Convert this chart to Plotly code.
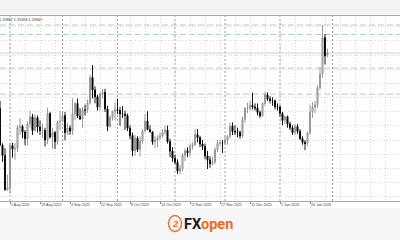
import pandas as pd
import plotly.graph_objects as go

# ---- data -------------------------------------------------------------
holidays = ["2025-12-25", "2026-01-01"]
dates = [d.strftime("%Y-%m-%d") for d in pd.bdate_range("2025-07-28", "2026-01-29")
         if d.strftime("%Y-%m-%d") not in holidays]

opens = [1.1740, 1.1588, 1.1546, 1.1405, 1.1415, 1.1587, 1.1572, 1.1575, 1.1661, 1.1665,
         1.1642, 1.1615, 1.1676, 1.1705, 1.1648, 1.1701, 1.1663, 1.1648, 1.1649, 1.1610,
         1.1718, 1.1622, 1.1640, 1.1603, 1.1683, 1.1686, 1.1710, 1.1640, 1.1659, 1.1646,
         1.1717, 1.1760, 1.1707, 1.1696, 1.1733, 1.1732, 1.1762, 1.1867, 1.1815, 1.1787,
         1.1745, 1.1800, 1.1805, 1.1737, 1.1665, 1.1702, 1.1727, 1.1734, 1.1731, 1.1717,
         1.1716, 1.1710, 1.1658, 1.1628, 1.1565, 1.1617, 1.1570, 1.1606, 1.1646, 1.1688,
         1.1653, 1.1643, 1.1602, 1.1609, 1.1619, 1.1627, 1.1643, 1.1650, 1.1603, 1.1564,
         1.1535, 1.1518, 1.1482, 1.1493, 1.1547, 1.1565, 1.1557, 1.1584, 1.1590, 1.1632,
         1.1620, 1.1593, 1.1583, 1.1544, 1.1528, 1.1512, 1.1519, 1.1569, 1.1596, 1.1598,
         1.1597, 1.1609, 1.1624, 1.1666, 1.1644, 1.1643, 1.1641, 1.1626, 1.1695, 1.1739,
         1.1740, 1.1752, 1.1745, 1.1741, 1.1723, 1.1709, 1.1760, 1.1795, 1.1779, 1.1772,
         1.1771, 1.1746, 1.1745, 1.1718, 1.1690, 1.1705, 1.1675, 1.1660, 1.1640, 1.1665,
         1.1645, 1.1615, 1.1600, 1.1595, 1.1640, 1.1725, 1.1745, 1.1755, 1.1825, 1.1880,
         1.2030, 1.1958]
highs = [1.1771, 1.1596, 1.1576, 1.1466, 1.1597, 1.1598, 1.1597, 1.1670, 1.1699, 1.1672,
         1.1650, 1.1686, 1.1730, 1.1717, 1.1715, 1.1710, 1.1690, 1.1677, 1.1660, 1.1742,
         1.1725, 1.1660, 1.1646, 1.1690, 1.1730, 1.1720, 1.1725, 1.1680, 1.1670, 1.1780,
         1.1765, 1.1780, 1.1740, 1.1745, 1.1755, 1.1775, 1.1878, 1.1918, 1.1830, 1.1795,
         1.1805, 1.1819, 1.1820, 1.1750, 1.1710, 1.1730, 1.1765, 1.1779, 1.1746, 1.1749,
         1.1730, 1.1718, 1.1670, 1.1640, 1.1630, 1.1625, 1.1625, 1.1655, 1.1716, 1.1728,
         1.1670, 1.1645, 1.1625, 1.1629, 1.1640, 1.1655, 1.1668, 1.1669, 1.1615, 1.1580,
         1.1548, 1.1530, 1.1508, 1.1555, 1.1575, 1.1580, 1.1595, 1.1600, 1.1655, 1.1655,
         1.1627, 1.1610, 1.1595, 1.1565, 1.1543, 1.1540, 1.1580, 1.1610, 1.1612, 1.1610,
         1.1628, 1.1630, 1.1680, 1.1682, 1.1670, 1.1660, 1.1648, 1.1705, 1.1745, 1.1762,
         1.1770, 1.1804, 1.1760, 1.1760, 1.1730, 1.1765, 1.1808, 1.1805, 1.1790, 1.1785,
         1.1775, 1.1760, 1.1752, 1.1725, 1.1710, 1.1710, 1.1685, 1.1670, 1.1675, 1.1675,
         1.1655, 1.1625, 1.1610, 1.1645, 1.1755, 1.1765, 1.1770, 1.1835, 1.1909, 1.2082,
         1.2045, 1.19852]
lows = [1.1586, 1.1520, 1.1401, 1.1401, 1.1391, 1.1537, 1.1528, 1.1561, 1.1630, 1.1617,
        1.1588, 1.1588, 1.1660, 1.1630, 1.1645, 1.1640, 1.1630, 1.1617, 1.1583, 1.1593,
        1.1615, 1.1574, 1.1573, 1.1590, 1.1650, 1.1683, 1.1608, 1.1630, 1.1630, 1.1630,
        1.1690, 1.1700, 1.1692, 1.1660, 1.1710, 1.1720, 1.1755, 1.1780, 1.1760, 1.1730,
        1.1730, 1.1780, 1.1725, 1.1646, 1.1660, 1.1690, 1.1690, 1.1716, 1.1668, 1.1700,
        1.1650, 1.1646, 1.1613, 1.1542, 1.1545, 1.1560, 1.1542, 1.1594, 1.1640, 1.1650,
        1.1640, 1.1590, 1.1576, 1.1580, 1.1610, 1.1620, 1.1630, 1.1595, 1.1540, 1.1520,
        1.1510, 1.1470, 1.1468, 1.1480, 1.1522, 1.1540, 1.1542, 1.1570, 1.1585, 1.1600,
        1.1580, 1.1568, 1.1530, 1.1490, 1.1495, 1.1505, 1.1510, 1.1560, 1.1585, 1.1556,
        1.1590, 1.1590, 1.1615, 1.1630, 1.1630, 1.1620, 1.1615, 1.1618, 1.1680, 1.1720,
        1.1730, 1.1735, 1.1730, 1.1710, 1.1700, 1.1705, 1.1750, 1.1770, 1.1760, 1.1750,
        1.1735, 1.1730, 1.1705, 1.1670, 1.1675, 1.1660, 1.1650, 1.1630, 1.1630, 1.1635,
        1.1610, 1.1590, 1.1568, 1.1585, 1.1630, 1.1700, 1.1720, 1.1740, 1.1815, 1.1865,
        1.1920, 1.19494]
closes = [1.1588, 1.1546, 1.1405, 1.1415, 1.1587, 1.1572, 1.1575, 1.1661, 1.1665, 1.1642,
          1.1615, 1.1676, 1.1705, 1.1648, 1.1701, 1.1663, 1.1648, 1.1649, 1.1610, 1.1718,
          1.1622, 1.1640, 1.1603, 1.1683, 1.1686, 1.1710, 1.1640, 1.1659, 1.1646, 1.1717,
          1.1760, 1.1707, 1.1696, 1.1733, 1.1732, 1.1762, 1.1867, 1.1815, 1.1787, 1.1745,
          1.1800, 1.1805, 1.1737, 1.1665, 1.1702, 1.1727, 1.1734, 1.1731, 1.1717, 1.1716,
          1.1710, 1.1658, 1.1628, 1.1565, 1.1617, 1.1570, 1.1606, 1.1646, 1.1688, 1.1653,
          1.1643, 1.1602, 1.1609, 1.1619, 1.1627, 1.1643, 1.1650, 1.1603, 1.1564, 1.1535,
          1.1518, 1.1482, 1.1493, 1.1547, 1.1565, 1.1557, 1.1584, 1.1590, 1.1632, 1.1620,
          1.1593, 1.1583, 1.1544, 1.1528, 1.1512, 1.1519, 1.1569, 1.1596, 1.1598, 1.1597,
          1.1609, 1.1624, 1.1666, 1.1644, 1.1643, 1.1641, 1.1626, 1.1695, 1.1739, 1.1740,
          1.1752, 1.1745, 1.1741, 1.1723, 1.1709, 1.1760, 1.1795, 1.1779, 1.1772, 1.1771,
          1.1746, 1.1745, 1.1718, 1.1690, 1.1705, 1.1675, 1.1660, 1.1640, 1.1665, 1.1645,
          1.1615, 1.1600, 1.1595, 1.1640, 1.1725, 1.1745, 1.1755, 1.1825, 1.1880, 1.2030,
          1.1955, 1.19667]

tick_dates = ["2025-08-01", "2025-08-19", "2025-09-04", "2025-09-22", "2025-10-08",
              "2025-10-24", "2025-11-11", "2025-11-27", "2025-12-15", "2026-01-02",
              "2026-01-20"]
tick_labels = ["1 Aug 2025", "19 Aug 2025", "4 Sep 2025", "22 Sep 2025", "8 Oct 2025",
               "24 Oct 2025", "11 Nov 2025", "27 Nov 2025", "15 Dec 2025", "2 Jan 2026",
               "20 Jan 2026"]
level_lines = [1.2082, 1.2043, 1.1905, 1.1798]
last_price = 1.19667
header_text = "1.19852 1.19494 1.19667"
price_range = [1.13589, 1.21190]
grid_start, grid_step = 1.13766, 0.00582

# ---- build ------------------------------------------------------------
xs = list(range(len(dates)))
tickvals = [dates.index(d) for d in tick_dates]
month_starts = [i for i in range(1, len(dates)) if dates[i][5:7] != dates[i - 1][5:7]]
month_starts.append(len(dates) + 1)  # next month (Feb 2) beyond the data

fig = go.Figure(go.Candlestick(
    x=xs, open=opens, high=highs, low=lows, close=closes,
    increasing=dict(line=dict(color="#8e8e8e", width=0.9), fillcolor="#d2d2d2"),
    decreasing=dict(line=dict(color="#000000", width=0.9), fillcolor="#000000"),
    whiskerwidth=0, hoverinfo="skip", showlegend=False,
))

grid_col = "#d6d6d6"
fig.update_layout(
    width=400, height=240,
    margin=dict(l=0, r=0, t=16, b=39),
    paper_bgcolor="#ffffff", plot_bgcolor="#ffffff",
    boxgap=0.4,
    showlegend=False,
    xaxis=dict(
        range=[0, 160], rangeslider=dict(visible=False),
        tickmode="array", tickvals=tickvals, ticktext=tick_labels,
        ticklabelposition="outside right",
        tickfont=dict(size=3.7, color="#444444", family="Liberation Sans"),
        ticks="outside", ticklen=2, tickcolor="#888888",
        showgrid=True, gridcolor=grid_col, griddash="1px,2px", gridwidth=1,
        minor=dict(tick0=tickvals[0], dtick=6, showgrid=True, gridcolor=grid_col,
                   griddash="1px,2px", ticks=""),
        showline=True, linecolor="#a8a8a8", linewidth=1, mirror=True,
        zeroline=False, fixedrange=True,
    ),
    yaxis=dict(
        range=price_range, showticklabels=False, ticks="",
        tick0=grid_start, dtick=grid_step,
        showgrid=True, gridcolor=grid_col, griddash="1px,2px", gridwidth=1,
        zeroline=False, showline=False, fixedrange=True,
    ),
)

plot_h = 240 - 16 - 39
def py(px):  # paper y from pixel row
    return (201 - px) / plot_h

shapes = []
shapes.append(dict(type="rect", xref="paper", yref="paper", x0=0, x1=1, y0=1.0, y1=py(0),
                   fillcolor="#f3f3f3", line=dict(width=0), layer="below"))
shapes.append(dict(type="rect", xref="paper", yref="paper", x0=0, x1=1, y0=py(208), y1=py(241),
                   fillcolor="#f6f6f6", line=dict(width=0), layer="below"))
for m in month_starts:
    shapes.append(dict(type="line", xref="x", yref="paper", x0=m, x1=m, y0=0, y1=1,
                       line=dict(color="#9c9c9c", width=1, dash="2px,2px"), layer="below"))
for lv in level_lines:
    shapes.append(dict(type="line", xref="paper", yref="y", x0=0, x1=1, y0=lv, y1=lv,
                       line=dict(color="#a9d7a9", width=1, dash="6px,3px"), layer="below"))
shapes.append(dict(type="line", xref="paper", yref="y", x0=0, x1=1, y0=last_price, y1=last_price,
                   line=dict(color="#cfcfcf", width=1), layer="below"))
shapes.append(dict(type="circle", xref="paper", yref="paper",
                   x0=168.5 / 400, x1=181.5 / 400, y0=py(231.5), y1=py(215.5),
                   line=dict(color="#f26b21", width=1.4), fillcolor="rgba(0,0,0,0)"))
fig.update_layout(shapes=shapes)

fig.add_annotation(xref="paper", yref="paper", x=0, y=py(19.5), xshift=-3,
                   xanchor="left", yanchor="middle", showarrow=False,
                   text=header_text,
                   font=dict(size=3.8, color="#333333", family="Liberation Sans"))
fig.add_annotation(xref="paper", yref="paper", x=175 / 400, y=py(223.5),
                   xanchor="center", yanchor="middle", showarrow=False,
                   text="<b><i>2</i></b>",
                   font=dict(size=9.5, color="#f26b21", family="Liberation Sans"))
fig.add_annotation(xref="paper", yref="paper", x=182 / 400, y=py(224.5),
                   xanchor="left", yanchor="middle", showarrow=False,
                   text="<b>FX<span style='color:#f26b21'>open</span></b>",
                   font=dict(size=14.5, color="#1a1a1a", family="Roboto"))

fig.write_html("out.html")
